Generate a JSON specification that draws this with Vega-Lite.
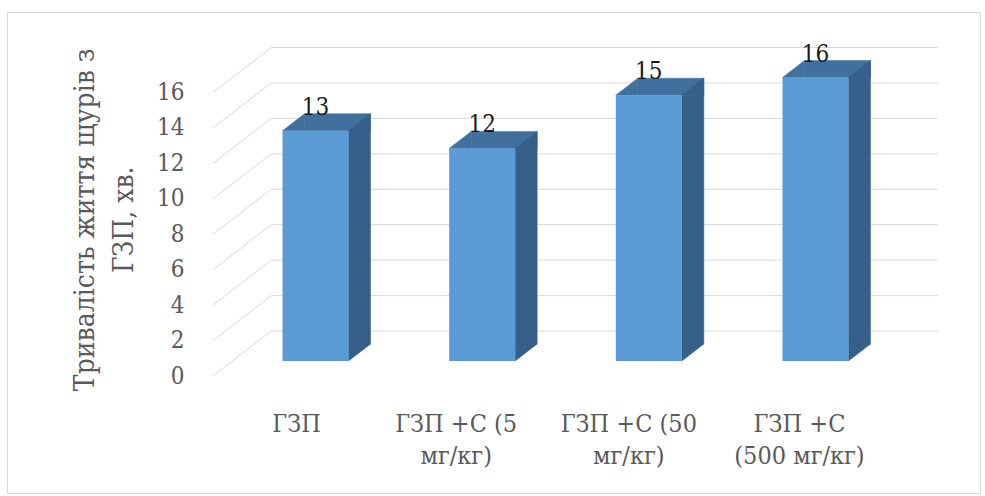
{
  "$schema": "https://vega.github.io/schema/vega-lite/v6.json",
  "width": 973,
  "height": 481,
  "autosize": "none",
  "padding": {"left": 7, "top": 12, "right": 5, "bottom": 3},
  "background": "white",
  "config": {
    "view": {"stroke": "#D9D9D9", "strokeWidth": 1},
    "font": "DejaVu Serif Condensed, DejaVu Serif",
    "text": {"font": "DejaVu Serif Condensed, DejaVu Serif"}
  },
  "datasets": {
    "groups": [
      {"group": "ГЗП", "minutes": 13},
      {"group": "ГЗП +С (5\nмг/кг)", "minutes": 12},
      {"group": "ГЗП +С (50\nмг/кг)", "minutes": 15},
      {"group": "ГЗП +С\n(500 мг/кг)", "minutes": 16}
    ],
    "ticks": [
      {"tick": 0}, {"tick": 2}, {"tick": 4}, {"tick": 6}, {"tick": 8},
      {"tick": 10}, {"tick": 12}, {"tick": 14}, {"tick": 16}
    ]
  },
  "data": {"name": "groups"},
  "encoding": {
    "x": {
      "field": "group",
      "type": "nominal",
      "sort": null,
      "scale": {
        "domain": ["ГЗП", "ГЗП +С (5\nмг/кг)", "ГЗП +С (50\nмг/кг)", "ГЗП +С\n(500 мг/кг)"],
        "range": [225.2, 891.8],
        "paddingInner": 0.604,
        "paddingOuter": 0.302
      },
      "axis": {
        "orient": "bottom",
        "offset": -117,
        "domain": false,
        "ticks": false,
        "grid": false,
        "title": null,
        "labelAngle": 0,
        "labelPadding": 35,
        "labelOffset": {
          "condition": [
            {"test": "datum.value === 'ГЗП'", "value": -19},
            {"test": "indexof(datum.value, '(5\\n') >= 0", "value": -26},
            {"test": "indexof(datum.value, '(50\\n') >= 0", "value": -20}
          ],
          "value": -16
        },
        "labelFont": "DejaVu Serif Condensed, DejaVu Serif",
        "labelFontSize": 25,
        "labelColor": "#595959",
        "labelLineHeight": 32,
        "labelLimit": 0,
        "labelOverlap": false,
        "labelExpr": "split(datum.label, '\\n')"
      }
    },
    "y": {
      "field": "minutes",
      "type": "quantitative",
      "scale": {"domain": [0, 16], "range": [349, 65.5], "nice": false},
      "axis": {
        "orient": "left",
        "offset": -206,
        "domain": false,
        "ticks": false,
        "grid": false,
        "values": [0, 2, 4, 6, 8, 10, 12, 14, 16],
        "labelPadding": 29,
        "labelOffset": 15,
        "labelFont": "DejaVu Serif Condensed, DejaVu Serif",
        "labelFontSize": 24,
        "labelColor": "#595959",
        "title": ["Тривалість життя щурів з", "ГЗП, хв."],
        "titleFont": "DejaVu Serif Condensed, DejaVu Serif",
        "titleFontSize": 28,
        "titleFontWeight": "normal",
        "titleColor": "#595959",
        "titleLineHeight": 39,
        "titlePadding": 18
      }
    }
  },
  "layer": [
    {
      "data": {"name": "ticks"},
      "mark": {"type": "rule", "color": "#D9D9D9", "strokeWidth": 1, "xOffset": -44.3, "x2Offset": 122.35, "yOffset": -30},
      "encoding": {
        "x": {"datum": "ГЗП", "type": "nominal"},
        "x2": {"datum": "ГЗП +С\n(500 мг/кг)"},
        "y": {"field": "tick", "type": "quantitative"}
      }
    },
    {
      "data": {"name": "ticks"},
      "mark": {"type": "rule", "color": "#D9D9D9", "strokeWidth": 1, "xOffset": -102.5, "x2Offset": -44.3, "yOffset": 15, "y2Offset": -30},
      "encoding": {
        "x": {"datum": "ГЗП", "type": "nominal"},
        "x2": {"datum": "ГЗП"},
        "y": {"field": "tick", "type": "quantitative"},
        "y2": {"field": "tick"}
      }
    },
    {
      "mark": {"type": "bar", "color": "#41709F", "stroke": "#41709F", "strokeWidth": 0.5, "xOffset": 22, "yOffset": -17},
      "encoding": {
        "y2": {"field": "minutes"}
      }
    },
    {
      "mark": {"type": "bar", "color": "#365F8A", "stroke": "#365F8A", "strokeWidth": 0.5, "width": 22, "xOffset": 44, "y2Offset": -17},
      "encoding": {
        "y2": {"datum": 0}
      }
    },
    {
      "mark": {"type": "point", "shape": "M0,0L2,-1.545L2,0Z", "size": 484, "filled": true, "opacity": 1, "color": "#365F8A", "stroke": "#365F8A", "strokeWidth": 0.5, "xOffset": 33}
    },
    {
      "mark": {"type": "point", "shape": "M0,0L2,-1.545L2,0Z", "size": 484, "filled": true, "opacity": 1, "color": "#41709F", "stroke": "#41709F", "strokeWidth": 0.5, "xOffset": -33}
    },
    {
      "mark": {"type": "point", "shape": "M0,0L0,-1.545L2,-1.545Z", "size": 484, "filled": true, "opacity": 1, "color": "#365F8A", "stroke": "#365F8A", "strokeWidth": 0.5, "xOffset": 33},
      "encoding": {
        "y": {"datum": 0, "type": "quantitative"}
      }
    },
    {
      "mark": {"type": "bar", "color": "#5B9BD5"}
    },
    {
      "mark": {"type": "text", "font": "DejaVu Serif Condensed, DejaVu Serif", "fontSize": 24, "color": "#1A1A1A", "baseline": "alphabetic", "dy": -16},
      "encoding": {
        "text": {"field": "minutes", "type": "quantitative"}
      }
    }
  ]
}
